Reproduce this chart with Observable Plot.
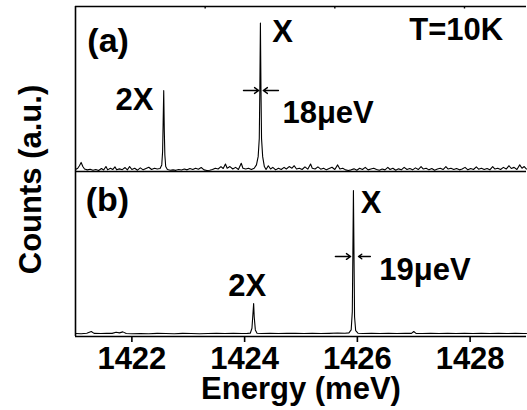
<!DOCTYPE html>
<html>
<head>
<meta charset="utf-8">
<script src="https://cdn.jsdelivr.net/npm/d3@7"></script>
<script src="https://cdn.jsdelivr.net/npm/@observablehq/plot@0.6"></script>
<style>
  html, body { margin: 0; padding: 0; background: #fff; }
  #chart svg { display: block; }
</style>
</head>
<body>
<div id="chart"></div>
<script>
// Panel (a): T = 10K spectrum, energy (meV) and counts (a.u., fraction of panel height)
const energyA = [1421.00,1421.04,1421.07,1421.10,1421.13,1421.16,1421.21,1421.26,1421.31,1421.36,1421.41,1421.46,1421.50,1421.54,1421.57,1421.62,1421.66,1421.70,1421.73,1421.78,1421.83,1421.88,1421.92,1421.96,1422.00,1422.05,1422.10,1422.15,1422.20,1422.25,1422.30,1422.35,1422.40,1422.45,1422.50,1422.53,1422.545,1422.555,1422.565,1422.575,1422.585,1422.60,1422.63,1422.68,1422.73,1422.78,1422.83,1422.88,1422.93,1422.98,1423.03,1423.08,1423.13,1423.18,1423.23,1423.28,1423.33,1423.38,1423.43,1423.48,1423.53,1423.58,1423.62,1423.66,1423.69,1423.74,1423.79,1423.84,1423.89,1423.94,1423.97,1424.02,1424.07,1424.12,1424.17,1424.21,1424.24,1424.26,1424.27,1424.28,1424.29,1424.30,1424.32,1424.35,1424.38,1424.42,1424.46,1424.50,1424.55,1424.60,1424.65,1424.70,1424.74,1424.79,1424.84,1424.88,1424.92,1424.97,1425.02,1425.07,1425.12,1425.17,1425.20,1425.25,1425.30,1425.35,1425.40,1425.45,1425.50,1425.55,1425.60,1425.65,1425.69,1425.74,1425.79,1425.84,1425.89,1425.94,1425.99,1426.04,1426.09,1426.14,1426.19,1426.24,1426.29,1426.34,1426.39,1426.44,1426.49,1426.54,1426.58,1426.63,1426.68,1426.73,1426.78,1426.83,1426.88,1426.93,1426.98,1427.03,1427.08,1427.13,1427.17,1427.22,1427.27,1427.32,1427.37,1427.42,1427.47,1427.52,1427.57,1427.61,1427.66,1427.71,1427.76,1427.81,1427.86,1427.91,1427.96,1428.01,1428.06,1428.11,1428.15,1428.20,1428.25,1428.30,1428.35,1428.40,1428.44,1428.49,1428.54,1428.59,1428.64,1428.69,1428.73,1428.78,1428.83,1428.88,1428.92,1428.96,1429.00];
const countsA = [0.012,0.02,0.035,0.055,0.03,0.015,0.01,0.014,0.008,0.012,0.006,0.018,0.009,0.03,0.01,0.02,0.012,0.028,0.01,0.016,0.011,0.024,0.01,0.03,0.012,0.02,0.008,0.022,0.01,0.018,0.026,0.012,0.02,0.015,0.018,0.04,0.12,0.3,0.49,0.25,0.1,0.03,0.012,0.008,0.01,0.007,0.012,0.009,0.015,0.01,0.018,0.012,0.02,0.014,0.024,0.01,0.006,0.008,0.012,0.02,0.015,0.03,0.018,0.045,0.02,0.03,0.015,0.025,0.012,0.05,0.02,0.015,0.02,0.012,0.02,0.04,0.09,0.2,0.5,0.9,0.5,0.2,0.09,0.03,0.012,0.035,0.015,0.025,0.01,0.02,0.012,0.025,0.015,0.03,0.02,0.035,0.015,0.02,0.012,0.028,0.014,0.045,0.02,0.015,0.028,0.014,0.02,0.01,0.018,0.026,0.012,0.04,0.015,0.02,0.01,0.006,0.01,0.016,0.008,0.02,0.012,0.025,0.01,0.015,0.02,0.012,0.008,0.015,0.01,0.025,0.012,0.02,0.008,0.016,0.01,0.025,0.012,0.018,0.01,0.022,0.012,0.03,0.015,0.02,0.01,0.018,0.008,0.015,0.02,0.012,0.03,0.015,0.02,0.012,0.018,0.01,0.015,0.025,0.01,0.018,0.012,0.028,0.014,0.02,0.012,0.018,0.01,0.03,0.015,0.02,0.012,0.025,0.015,0.035,0.018,0.025,0.012,0.04,0.02,0.03,0.015];

// Panel (b) spectrum
const energyB = [1421.00,1421.10,1421.20,1421.28,1421.33,1421.45,1421.55,1421.65,1421.72,1421.78,1421.84,1421.90,1422.00,1422.15,1422.30,1422.45,1422.60,1422.75,1422.90,1423.05,1423.20,1423.35,1423.50,1423.65,1423.80,1423.95,1424.05,1424.10,1424.13,1424.15,1424.16,1424.17,1424.19,1424.22,1424.30,1424.45,1424.60,1424.75,1424.90,1425.05,1425.20,1425.35,1425.50,1425.65,1425.78,1425.85,1425.89,1425.91,1425.92,1425.93,1425.94,1425.95,1425.97,1426.01,1426.10,1426.25,1426.40,1426.55,1426.70,1426.85,1426.96,1427.00,1427.04,1427.15,1427.30,1427.45,1427.60,1427.75,1427.90,1428.05,1428.20,1428.35,1428.50,1428.65,1428.80,1428.95,1429.00];
const countsB = [0.018,0.017,0.02,0.03,0.019,0.018,0.02,0.019,0.026,0.022,0.028,0.018,0.017,0.018,0.017,0.019,0.018,0.017,0.019,0.018,0.017,0.018,0.019,0.018,0.019,0.018,0.019,0.02,0.05,0.15,0.2,0.12,0.04,0.02,0.018,0.019,0.018,0.02,0.019,0.018,0.02,0.018,0.019,0.021,0.02,0.022,0.04,0.15,0.5,0.885,0.5,0.12,0.035,0.02,0.018,0.019,0.018,0.019,0.018,0.02,0.019,0.03,0.019,0.018,0.019,0.018,0.019,0.018,0.019,0.018,0.019,0.018,0.019,0.018,0.019,0.018,0.018];

const xTicks = [1422, 1424, 1426, 1428];
const topTicks = [1423.3, 1425.6, 1427.9];

// panel letters
const panelText = ["(a)", "(b)"];
const panelE    = [1421.21, 1421.18];
const panelY    = [1.79, 0.824];

// annotations (text, energy, stacked y)
const noteText = ["T=10K", "X", "2X", "18\u03BCeV", "X", "2X", "19\u03BCeV"];
const noteE    = [1426.92, 1424.49, 1421.71, 1424.67, 1426.06, 1423.71, 1426.39];
const noteY    = [1.855, 1.842, 1.43, 1.352, 0.806, 0.303, 0.40];

// FWHM arrows
const arrowX1 = [1423.98, 1424.60, 1425.61, 1426.23];
const arrowX2 = [1424.25, 1424.33, 1425.88, 1426.02];
const arrowY  = [1.491, 1.491, 0.485, 0.485];

const spectra = [
  ...energyA.map((e, i) => ({panel: "a", energy: e, counts: countsA[i], offset: 1})),
  ...energyB.map((e, i) => ({panel: "b", energy: e, counts: countsB[i], offset: 0}))
];
const notes = noteText.map((t, i) => ({t, e: noteE[i], y: noteY[i]}));
const panels = panelText.map((t, i) => ({t, e: panelE[i], y: panelY[i]}));
const arrows = arrowX1.map((x1, i) => ({x1, x2: arrowX2[i], y: arrowY[i]}));

const font = "'Liberation Sans', Arial, Helvetica, sans-serif";

const chart = Plot.plot({
  width: 527,
  height: 410,
  marginLeft: 75,
  marginRight: 1,
  marginTop: 6,
  marginBottom: 74,
  x: {domain: [1421, 1429]},
  y: {domain: [0, 2], axis: null},
  style: {fontFamily: font, fontSize: "31px", fontWeight: "bold", color: "black", background: "white", overflow: "visible"},
  marks: [
    Plot.line(spectra, {x: "energy", y: d => d.counts + d.offset, z: "panel", stroke: "black", strokeWidth: 1.1}),
    Plot.ruleY([0, 1, 2], {stroke: "black", strokeWidth: 1.6}),
    Plot.ruleX([1421], {y1: 0, y2: 2, stroke: "black", strokeWidth: 1.6}),
    Plot.ruleX(topTicks, {y1: 2, y2: 1.985, stroke: "black", strokeWidth: 1.4}),
    Plot.axisX(xTicks, {anchor: "bottom", tickSize: 6, tickPadding: 4, strokeWidth: 1.6, label: null, tickFormat: d => String(d)}),
    Plot.arrow(arrows, {x1: "x1", x2: "x2", y1: "y", y2: "y", stroke: "black", strokeWidth: 1.4, headLength: 6, headAngle: 70}),
    Plot.text(panels, {x: "e", y: "y", text: "t", textAnchor: "start", lineAnchor: "middle", fill: "black", fontSize: 34}),
    Plot.text(notes, {x: "e", y: "y", text: "t", textAnchor: "start", lineAnchor: "middle", fill: "black"}),
    Plot.text(["Energy (meV)"], {frameAnchor: "bottom", dy: 53, textAnchor: "middle", lineAnchor: "middle", fill: "black"}),
    Plot.text(["Counts (a.u.)"], {frameAnchor: "left", dx: -44, dy: 8, rotate: -90, textAnchor: "middle", lineAnchor: "middle", fill: "black"})
  ]
});
document.getElementById("chart").appendChild(chart);
</script>
</body>
</html>
